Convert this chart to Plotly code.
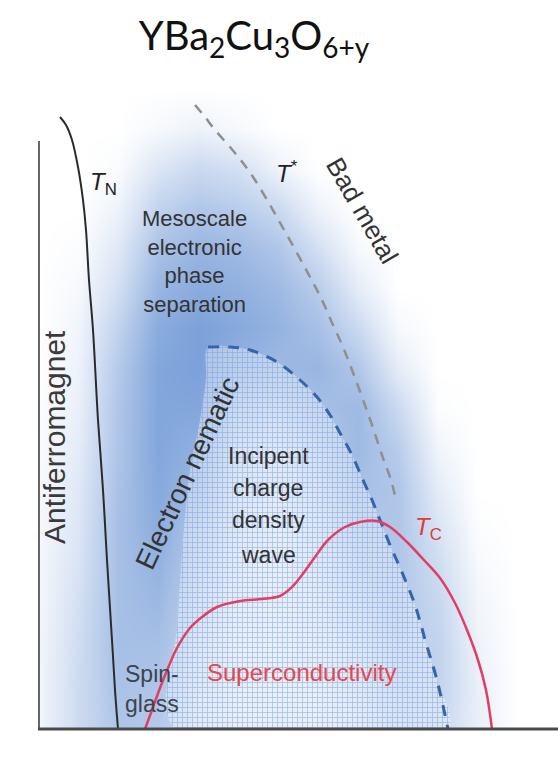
import plotly.graph_objects as go

# ---- data (x = doping axis units, T = temperature axis units; schematic) ----
tn_x = [22, 28, 34, 40, 45, 48, 51, 55, 60, 65, 69, 74, 77, 80]
tn_T = [612, 604, 589, 562, 529, 499, 449, 399, 309, 239, 169, 89, 39, 0]

tstar_x = [157, 167, 177, 192, 205, 217, 232, 245, 259, 272, 284, 295, 305, 314, 324, 334, 345, 353, 358]
tstar_T = [624, 612, 599, 582, 566, 549, 524, 501, 476, 452, 429, 404, 382, 359, 332, 304, 271, 249, 229]

nem_x = [170, 192, 212, 239, 262, 279, 292, 302, 314, 325, 334, 342, 352, 363, 377, 388, 399, 410]
nem_T = [382, 382, 379, 367, 349, 332, 314, 296, 274, 249, 229, 209, 184, 159, 124, 86, 49, 0]

tc_x = [107, 114, 122, 130, 139, 152, 164, 179, 202, 224, 242, 254, 264, 277, 290, 307, 322, 339,
        352, 369, 385, 402, 417, 429, 440, 448, 454]
tc_T = [0, 19, 41, 61, 81, 101, 112, 122, 128, 130, 133, 142, 154, 172, 189, 202, 207, 208,
        202, 187, 170, 151, 126, 99, 69, 39, 0]

# left edge of the CDW mesh region (under "Electron nematic")
mesh_left_x = [137, 140, 145, 152, 162, 168]
mesh_left_T = [0, 109, 189, 259, 309, 350]

# background blue shading intensity (rows: T = 0..640 step 40; cols: x = 0..520 step 40)
shade_x = [0, 40, 80, 120, 160, 200, 240, 280, 320, 360, 400, 440, 480, 520]
shade_T = [0, 40, 80, 120, 160, 200, 240, 280, 320, 360, 400, 440, 480, 520, 560, 600, 640]
shade_z = [
    [0.07, 0.28, 0.45, 0.42, 0.25, 0.20, 0.20, 0.20, 0.25, 0.35, 0.32, 0.12, 0, 0],
    [0.07, 0.28, 0.48, 0.45, 0.28, 0.20, 0.20, 0.20, 0.28, 0.38, 0.35, 0.12, 0, 0],
    [0.07, 0.27, 0.50, 0.50, 0.30, 0.20, 0.20, 0.22, 0.30, 0.40, 0.35, 0.10, 0, 0],
    [0.06, 0.25, 0.50, 0.55, 0.35, 0.22, 0.20, 0.25, 0.35, 0.45, 0.32, 0.08, 0, 0],
    [0.06, 0.22, 0.50, 0.60, 0.40, 0.25, 0.20, 0.28, 0.40, 0.45, 0.28, 0.05, 0, 0],
    [0.05, 0.20, 0.50, 0.65, 0.45, 0.28, 0.22, 0.30, 0.45, 0.45, 0.22, 0.02, 0, 0],
    [0.04, 0.18, 0.48, 0.68, 0.55, 0.30, 0.25, 0.35, 0.50, 0.45, 0.15, 0, 0, 0],
    [0.03, 0.15, 0.46, 0.70, 0.62, 0.35, 0.30, 0.40, 0.55, 0.40, 0.08, 0, 0, 0],
    [0.02, 0.12, 0.45, 0.70, 0.70, 0.45, 0.40, 0.50, 0.55, 0.30, 0.02, 0, 0, 0],
    [0, 0.10, 0.42, 0.70, 0.74, 0.60, 0.55, 0.58, 0.45, 0.15, 0, 0, 0, 0],
    [0, 0.08, 0.35, 0.66, 0.74, 0.68, 0.60, 0.50, 0.30, 0.05, 0, 0, 0, 0],
    [0, 0.05, 0.25, 0.58, 0.66, 0.62, 0.55, 0.40, 0.15, 0, 0, 0, 0, 0],
    [0, 0.02, 0.18, 0.48, 0.58, 0.55, 0.45, 0.25, 0.05, 0, 0, 0, 0, 0],
    [0, 0, 0.10, 0.35, 0.45, 0.40, 0.30, 0.10, 0, 0, 0, 0, 0, 0],
    [0, 0, 0.03, 0.20, 0.30, 0.25, 0.10, 0, 0, 0, 0, 0, 0, 0],
    [0, 0, 0, 0.05, 0.10, 0.05, 0, 0, 0, 0, 0, 0, 0, 0],
    [0, 0, 0, 0, 0, 0, 0, 0, 0, 0, 0, 0, 0, 0],
]

FONT = "Liberation Sans, Arial, sans-serif"

fig = go.Figure()

fig.add_trace(go.Heatmap(
    x=shade_x, y=shade_T, z=shade_z, zsmooth="best", zmin=0, zmax=1,
    colorscale=[[0, "rgb(255,255,255)"], [1, "rgb(78,128,204)"]],
    showscale=False, hoverinfo="skip"))

# mesh (incipient CDW) region
dome_x = nem_x + mesh_left_x + [nem_x[0]]
dome_T = nem_T + mesh_left_T + [nem_T[0]]
fig.add_trace(go.Scatter(
    x=dome_x, y=dome_T, mode="lines", fill="toself", line=dict(width=0, shape="spline"),
    fillcolor="rgba(255,255,255,0.35)",
    fillpattern=dict(shape="+", size=5, solidity=0.28, fillmode="replace",
                     fgcolor="rgba(115,155,218,0.6)", bgcolor="rgba(255,255,255,0.38)"),
    hoverinfo="skip"))

fig.add_trace(go.Scatter(x=tn_x, y=tn_T, mode="lines",
                         line=dict(color="#2b2b2b", width=2, shape="spline"), hoverinfo="skip"))
fig.add_trace(go.Scatter(x=tstar_x, y=tstar_T, mode="lines",
                         line=dict(color="#8f8f8f", width=2.5, dash="10px,8px", shape="spline"), hoverinfo="skip"))
fig.add_trace(go.Scatter(x=nem_x, y=nem_T, mode="lines",
                         line=dict(color="#3565a8", width=3, dash="11px,9px", shape="spline"), hoverinfo="skip"))
fig.add_trace(go.Scatter(x=tc_x, y=tc_T, mode="lines",
                         line=dict(color="#e23d62", width=2.5, shape="spline"), hoverinfo="skip"))

shapes = [
    dict(type="rect", xref="x", yref="y", x0=-8, x1=0, y0=-12, y1=644, fillcolor="white",
         line=dict(width=0), layer="above"),
    dict(type="rect", xref="x", yref="y", x0=-8, x1=520, y0=-12, y1=0, fillcolor="white",
         line=dict(width=0), layer="above"),
    dict(type="line", xref="x", yref="y", x0=1, x1=1, y0=0, y1=588,
         line=dict(color="#666666", width=2), layer="above"),
    dict(type="line", xref="x", yref="y", x0=0, x1=520, y0=0, y1=0,
         line=dict(color="#4a4a4a", width=3), layer="above"),
]

dark = "#333333"
ann = [
    dict(x=65, y=546, text="<i>T</i><sub>N</sub>", font=dict(size=24, color="#222")),
    dict(x=156, y=468, text="Mesoscale<br>electronic<br>phase<br>separation", font=dict(size=22, color=dark)),
    dict(x=249, y=557, text="<i>T</i><sup>*</sup>", font=dict(size=24, color="#222")),
    dict(x=324, y=519, text="Bad metal", textangle=60, font=dict(size=26, color=dark)),
    dict(x=16, y=292, text="Antiferromagnet", textangle=-90, font=dict(size=30, color="#3a3a3a")),
    dict(x=149, y=256, text="Electron nematic", textangle=-65, font=dict(size=28, color=dark)),
    dict(x=230, y=273, text="Incipent", font=dict(size=23, color=dark)),
    dict(x=230, y=241, text="charge", font=dict(size=23, color=dark)),
    dict(x=230, y=209, text="density", font=dict(size=23, color=dark)),
    dict(x=230, y=174, text="wave", font=dict(size=23, color=dark)),
    dict(x=114, y=40, text="Spin-<br>glass", font=dict(size=23, color="#3d4450")),
    dict(x=263, y=57, text="Superconductivity", font=dict(size=24, color="#e8474c")),
    dict(x=390, y=201, text="<i>T</i><sub>C</sub>", font=dict(size=24, color="#e03a3a")),
    dict(x=-15, y=536, text="<i>T</i>", textangle=-90, font=dict(size=22, color="#222")),
    dict(x=484, y=-21, text="<i>y</i>", font=dict(size=22, color="#222")),
]
for a in ann:
    a.update(xref="x", yref="y", showarrow=False, xanchor="center", yanchor="middle")
    a["font"]["family"] = FONT

fig.update_layout(
    width=558, height=766,
    margin=dict(l=30, r=0, t=85, b=25),
    paper_bgcolor="white", plot_bgcolor="white",
    showlegend=False,
    title=dict(text="YBa<sub>2</sub>Cu<sub>3</sub>O<sub>6+y</sub>", xref="container", yref="container",
               x=254 / 558, xanchor="center", y=1 - 36 / 766, yanchor="middle",
               font=dict(family="Lato, Open Sans, sans-serif", size=40, color="#111")),
    xaxis=dict(range=[-8, 520], visible=False, fixedrange=True),
    yaxis=dict(range=[-12, 644], visible=False, fixedrange=True),
    shapes=shapes, annotations=ann,
)

fig.write_html("out.html")
